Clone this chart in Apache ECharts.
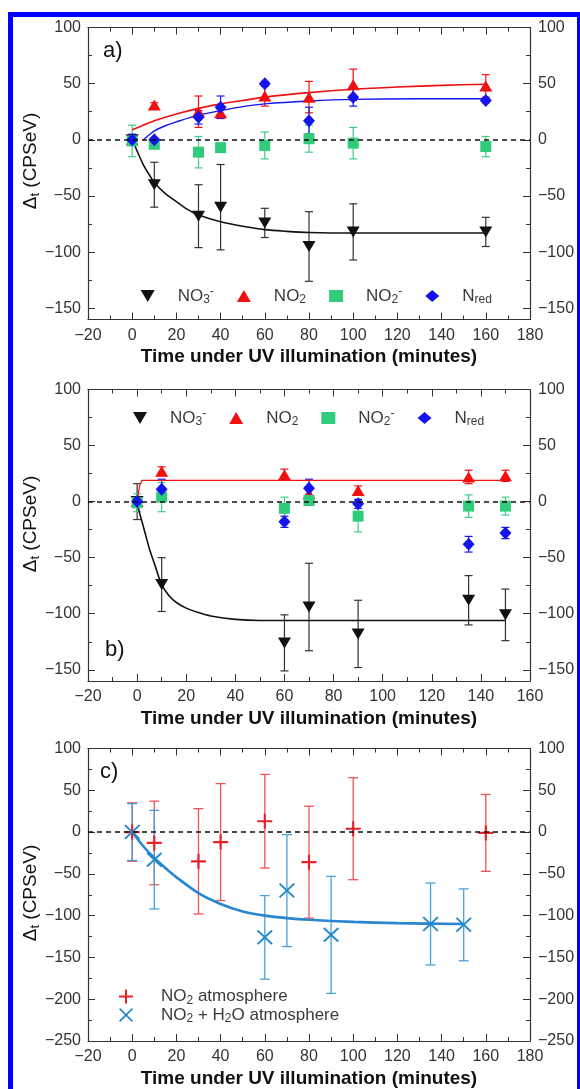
<!DOCTYPE html>
<html><head><meta charset="utf-8">
<script src="https://cdn.jsdelivr.net/npm/echarts@6/dist/echarts.min.js"></script>
<style>html,body{margin:0;padding:0;background:#fff}#c{width:580px;height:1089px}</style>
</head><body><div id="c"></div>
<script>
// ---------- Panel a data ----------
const aTime = [0, 10, 30, 40, 60, 80, 100, 160];
const aNO3 = [0, -40, -68, -60, -74, -95, -82, -82];
const aNO3Err = [3, 20, 28, 38, 13, 31, 25, 13];
const aNO2 = [0, 31, 25, 24, 39, 38, 49, 48];
const aNO2Err = [2, 2, 14, 5, 9, 14, 14, 10];
const aNO2m = [-1, -4, -11, -7, -5, 1, -3, -6];
const aNO2mErr = [14, 2, 14, 4, 12, 12, 14, 9];
const aNred = [0, 0, 20, 29, 50, 17, 38, 35];
const aNredErr = [5, 2, 6, 10, 2, 12, 8, 2];
const aFitNO3Time = [0, 2, 5, 8, 10, 15, 20, 25, 30, 40, 50, 60, 70, 80, 100, 130, 160];
const aFitNO3 = [0, -9, -22, -32, -38, -48, -55, -62, -67, -73, -77, -80, -81.5, -82.5, -83, -83, -83];
const aFitNO2Time = [0, 5, 10, 20, 30, 40, 50, 60, 80, 100, 120, 140, 160];
const aFitNO2 = [9, 13, 17, 23, 28, 32, 35, 38, 42, 45, 47, 48.5, 49.5];
const aFitNredTime = [5, 8, 10, 15, 20, 30, 40, 50, 60, 80, 100, 130, 160];
const aFitNred = [0, 5, 8, 12.5, 16, 22, 26, 29.5, 32, 34.5, 36, 36.5, 36.5];

// ---------- Panel b data ----------
const bTime = [0, 10, 60, 70, 90, 135, 150];
const bNO3 = [0, -74, -126, -94, -118, -88, -101];
const bNO3Err = [16, 24, 25, 39, 30, 22, 23];
const bNO2 = [0, 27, 24, 7, 10, 22, 23];
const bNO2Err = [2, 4, 5, 3, 4, 6, 5];
const bNO2m = [-1, 4, -6, 1, -13, -4, -4];
const bNO2mErr = [8, 13, 10, 4, 14, 10, 8];
const bNred = [0, 11, -18, 12, -2, -38, -28];
const bNredErr = [3, 9, 5, 8, 4, 7, 5];
const bFitNO3Time = [0, 1, 2, 3, 5, 7, 10, 13, 16, 20, 25, 30, 40, 50, 60, 80, 110, 150];
const bFitNO3 = [0, -10, -18, -26, -42, -55, -74, -84, -90, -95, -99, -102, -105, -106, -106, -106, -106, -106];
const bFitNO2Time = [0, 1, 2, 150];
const bFitNO2 = [0, 14, 19, 19];

// ---------- Panel c data ----------
const cTimeNO2 = [0, 10, 30, 40, 60, 80, 100, 160];
const cNO2 = [0, -13, -35, -12, 13, -36, 4, -1];
const cNO2Err = [35, 50, 63, 70, 56, 67, 61, 46];
const cTimeH2O = [0, 10, 60, 70, 90, 135, 150];
const cH2O = [0, -33, -126, -70, -123, -110, -111];
const cH2OErr = [34, 59, 50, 67, 70, 49, 43];
const cFitTime = [0, 5, 10, 15, 20, 30, 40, 50, 60, 70, 80, 100, 120, 150];
const cFit = [0, -17, -31, -43, -54, -73, -86, -95, -100, -103, -105, -107.5, -109, -110];

// ---------- Tick labels ----------
const yTicksAB = [-150, -100, -50, 0, 50, 100];
const yMinorAB = [-125, -75, -25, 25, 75];
const yTicksC = [-250, -200, -150, -100, -50, 0, 50, 100];
const yMinorC = [-225, -175, -125, -75, -25, 25, 75];
const xTitle = 'Time under UV illumination (minutes)';

const FONT = "'Liberation Sans', Arial, Helvetica, sans-serif";
const AX = '#333';
function minus(v) { return v < 0 ? '\u2212' + (-v) : String(v); }

const panels = [
  { top: 27.5, height: 292, xMax: 180, yMin: -160, yMax: 100, yTicks: yTicksAB, yMinor: yMinorAB },
  { top: 389.5, height: 291.5, xMax: 160, yMin: -160, yMax: 100, yTicks: yTicksAB, yMinor: yMinorAB },
  { top: 748.5, height: 292.5, xMax: 180, yMin: -250, yMax: 100, yTicks: yTicksC, yMinor: yMinorC }
];

const grids = [], xAxes = [], yAxes = [];
panels.forEach((p, i) => {
  grids.push({ left: 88, right: 50, top: p.top, height: p.height, containLabel: false, outerBoundsMode: 'none' });
  const xBase = {
    type: 'value', gridIndex: i, min: -20, max: p.xMax, interval: 20,
    axisLine: { onZero: false, lineStyle: { color: AX, width: 1.2 } },
    axisTick: { inside: true, length: 7, lineStyle: { color: AX } },
    minorTick: { show: true, splitNumber: 2, length: 4, lineStyle: { color: AX } },
    splitLine: { show: false }, minorSplitLine: { show: false }
  };
  xAxes.push(Object.assign({}, xBase, {
    position: 'bottom',
    axisLabel: { margin: 8, fontSize: 16, color: '#333', fontFamily: FONT, formatter: minus },
    name: xTitle, nameLocation: 'middle', nameGap: 28,
    nameTextStyle: { fontSize: 19, fontWeight: 'bold', color: '#111', fontFamily: FONT }
  }));
  xAxes.push(Object.assign({}, xBase, { position: 'top', axisLabel: { show: false } }));
  const yBase = {
    type: 'value', gridIndex: i, min: p.yMin, max: p.yMax, splitLine: { show: false },
    axisLine: { onZero: false, lineStyle: { color: AX, width: 1.2 } }
  };
  ['left', 'right'].forEach(pos => {
    yAxes.push(Object.assign({}, yBase, {
      position: pos,
      axisTick: { inside: true, length: 7, customValues: p.yTicks, lineStyle: { color: AX } },
      axisLabel: { customValues: p.yTicks, margin: pos === 'left' ? 7 : 8, fontSize: 16, color: '#333', fontFamily: FONT, formatter: minus }
    }));
  });
  ['left', 'right'].forEach(pos => {
    yAxes.push(Object.assign({}, yBase, {
      position: pos,
      axisLine: { show: false, onZero: false },
      axisTick: { inside: true, length: 4, customValues: p.yMinor, lineStyle: { color: AX } },
      axisLabel: { show: false }
    }));
  });
});

const DOWN = 'path://M0,0L14,0L7,12Z';
const PLUS = 'path://M6,0H8V6H14V8H8V14H6V8H0V6H6Z';
const CROSS = 'path://M0,1.2L1.2,0L7,5.8L12.8,0L14,1.2L8.2,7L14,12.8L12.8,14L7,8.2L1.2,14L0,12.8L5.8,7Z';

const zeroLine = {
  silent: true, symbol: 'none', label: { show: false }, animation: false,
  lineStyle: { color: '#111', type: [5, 4], width: 1.5 },
  data: [{ yAxis: 0 }]
};

const series = [];
function scatter(name, xi, yi, t, y, symbol, size, color, withZero) {
  const s = {
    type: 'scatter', name, xAxisIndex: xi, yAxisIndex: yi,
    data: t.map((v, k) => [v, y[k]]),
    symbol, symbolSize: size,
    itemStyle: { color, opacity: 1 }, z: 4
  };
  if (withZero) s.markLine = zeroLine;
  series.push(s);
}
function errbars(xi, yi, t, y, e, color, cap, lw) {
  series.push({
    type: 'custom', xAxisIndex: xi, yAxisIndex: yi, silent: true, z: 2,
    data: t.map((v, k) => [v, y[k] - e[k], y[k] + e[k]]),
    encode: { x: 0, y: [1, 2] },
    renderItem: (params, api) => {
      const x = api.value(0);
      const lo = api.coord([x, api.value(1)]);
      const hi = api.coord([x, api.value(2)]);
      const c = cap / 2;
      const st = { stroke: color, lineWidth: lw };
      return {
        type: 'group', children: [
          { type: 'line', shape: { x1: lo[0], y1: lo[1], x2: hi[0], y2: hi[1] }, style: st },
          { type: 'line', shape: { x1: lo[0] - c, y1: lo[1], x2: lo[0] + c, y2: lo[1] }, style: st },
          { type: 'line', shape: { x1: hi[0] - c, y1: hi[1], x2: hi[0] + c, y2: hi[1] }, style: st }
        ]
      };
    }
  });
}
function fit(xi, yi, t, y, color, width, smooth) {
  series.push({
    type: 'line', xAxisIndex: xi, yAxisIndex: yi, silent: true, z: 3,
    data: t.map((v, k) => [v, y[k]]), symbol: 'none', showSymbol: false,
    smooth: smooth,
    lineStyle: { color, width }
  });
}

const BLACK = '#111', RED = '#f01010', GREEN = '#30cc7c', BLUE = '#1414ee';
// Panel a
errbars(0, 0, aTime, aNO3, aNO3Err, '#333', 8, 1.2);
errbars(0, 0, aTime, aNO2, aNO2Err, RED, 8, 1.2);
errbars(0, 0, aTime, aNO2m, aNO2mErr, '#40cc88', 8, 1.2);
errbars(0, 0, aTime, aNred, aNredErr, BLUE, 8, 1.2);
fit(0, 0, aFitNO3Time, aFitNO3, BLACK, 1.6, 0.3);
fit(0, 0, aFitNO2Time, aFitNO2, RED, 1.6, 0.3);
fit(0, 0, aFitNredTime, aFitNred, BLUE, 1.4, 0.3);
scatter('NO3- a', 0, 0, aTime, aNO3, DOWN, [13, 11], BLACK, true);
scatter('NO2 a', 0, 0, aTime, aNO2, 'triangle', [13, 11], RED, false);
scatter('NO2m a', 0, 0, aTime, aNO2m, 'rect', [11, 11], GREEN, false);
scatter('Nred a', 0, 0, aTime, aNred, 'diamond', [12, 13], BLUE, false);
// Panel b
errbars(2, 4, bTime, bNO3, bNO3Err, '#333', 8, 1.2);
errbars(2, 4, bTime, bNO2, bNO2Err, RED, 8, 1.2);
errbars(2, 4, bTime, bNO2m, bNO2mErr, '#40cc88', 8, 1.2);
errbars(2, 4, bTime, bNred, bNredErr, BLUE, 8, 1.2);
fit(2, 4, bFitNO3Time, bFitNO3, BLACK, 1.6, 0.3);
fit(2, 4, bFitNO2Time, bFitNO2, RED, 1.2, false);
scatter('NO3- b', 2, 4, bTime, bNO3, DOWN, [13, 11], BLACK, true);
scatter('NO2 b', 2, 4, bTime, bNO2, 'triangle', [13, 11], RED, false);
scatter('NO2m b', 2, 4, bTime, bNO2m, 'rect', [11, 11], GREEN, false);
scatter('Nred b', 2, 4, bTime, bNred, 'diamond', [12, 13], BLUE, false);
// Panel c
errbars(4, 8, cTimeNO2, cNO2, cNO2Err, '#ec5555', 10, 1.3);
errbars(4, 8, cTimeH2O, cH2O, cH2OErr, '#4a9fd8', 10, 1.3);
fit(4, 8, cFitTime, cFit, '#2a86d0', 2.6, 0.3);
scatter('NO2 atm c', 4, 8, cTimeNO2, cNO2, PLUS, [15, 15], '#e8202a', true);
scatter('NO2 H2O c', 4, 8, cTimeH2O, cH2O, CROSS, [16, 15], '#2389c8', false);

const legendText = {
  'NO3-': '{g| }{b|NO}{s|3}{p|-}', 'NO2': '{g| }{b|NO}{s|2}', 'NO2m': '{g| }{b|NO}{s|2}{p|-}', 'Nred': '{g| }{b|N}{s|red}',
  'NO2 atm': '{h| }{b|NO}{s|2}{b| atmosphere}', 'NO2 H2O': '{h| }{b|NO}{s|2}{b| + H}{s|2}{b|O atmosphere}'
};
const rich = {
  g: { width: 18, fontSize: 17, lineHeight: 20, verticalAlign: 'middle' },
  h: { width: 22.5, fontSize: 17, lineHeight: 20, verticalAlign: 'middle' },
  b: { fontSize: 17, lineHeight: 20, verticalAlign: 'middle', fontFamily: FONT, color: '#3a3a3a' },
  s: { fontSize: 12, lineHeight: 12, verticalAlign: 'bottom', fontFamily: FONT, color: '#3a3a3a' },
  p: { fontSize: 12, lineHeight: 12, verticalAlign: 'top', fontFamily: FONT, color: '#3a3a3a' }
};
function legendFmt(name) { return legendText[name.replace(/ [abc]$/, '')]; }
function mkLegend(names, left, top, orient, itemWidth, itemHeight, itemGap) {
  return {
    data: names, left, top, orient, itemWidth, itemHeight, itemGap, padding: 0,
    selectedMode: false, formatter: legendFmt,
    textStyle: { fontSize: 17, fontFamily: FONT, color: '#3a3a3a', rich }
  };
}

const titleRich = {
  d: { fontSize: 19, lineHeight: 22, verticalAlign: 'middle', fontFamily: FONT, fill: '#111' },
  s: { fontSize: 13, lineHeight: 13, verticalAlign: 'bottom', fontFamily: FONT, fill: '#111' }
};
function yTitle(y) {
  return { type: 'text', x: 31, y, rotation: Math.PI / 2, z: 50,
    style: { text: '{d|\u0394}{s|t}{d| (CPSeV)}', rich: titleRich, align: 'center', verticalAlign: 'middle', fill: '#111' } };
}
function panelLabel(txt, x, y) {
  return { type: 'text', x, y, z: 50,
    style: { text: txt, fontSize: 22, fontFamily: FONT, fill: '#111', align: 'left', verticalAlign: 'middle' } };
}

const option = {
  animation: false,
  backgroundColor: '#fff',
  grid: grids, xAxis: xAxes, yAxis: yAxes, series,
  legend: [
    mkLegend(['NO3- a', 'NO2 a', 'NO2m a', 'Nred a'], 140.7, 286, 'horizontal', 14, 12, 23),
    mkLegend(['NO3- b', 'NO2 b', 'NO2m b', 'Nred b'], 133, 408, 'horizontal', 14, 12, 23),
    mkLegend(['NO2 atm c', 'NO2 H2O c'], 119, 988, 'vertical', 15, 14, 0)
  ],
  graphic: [
    yTitle(161), yTitle(524), yTitle(893),
    panelLabel('a)', 103, 51), panelLabel('b)', 105, 650), panelLabel('c)', 100, 772),
    { type: 'rect', z: 100, silent: true, shape: { x: 10.5, y: 14.5, width: 569, height: 1100 },
      style: { fill: 'none', stroke: '#0000ff', lineWidth: 5 } }
  ]
};
const chart = echarts.init(document.getElementById('c'), null, { renderer: 'canvas' });
chart.setOption(option);
</script></body></html>
